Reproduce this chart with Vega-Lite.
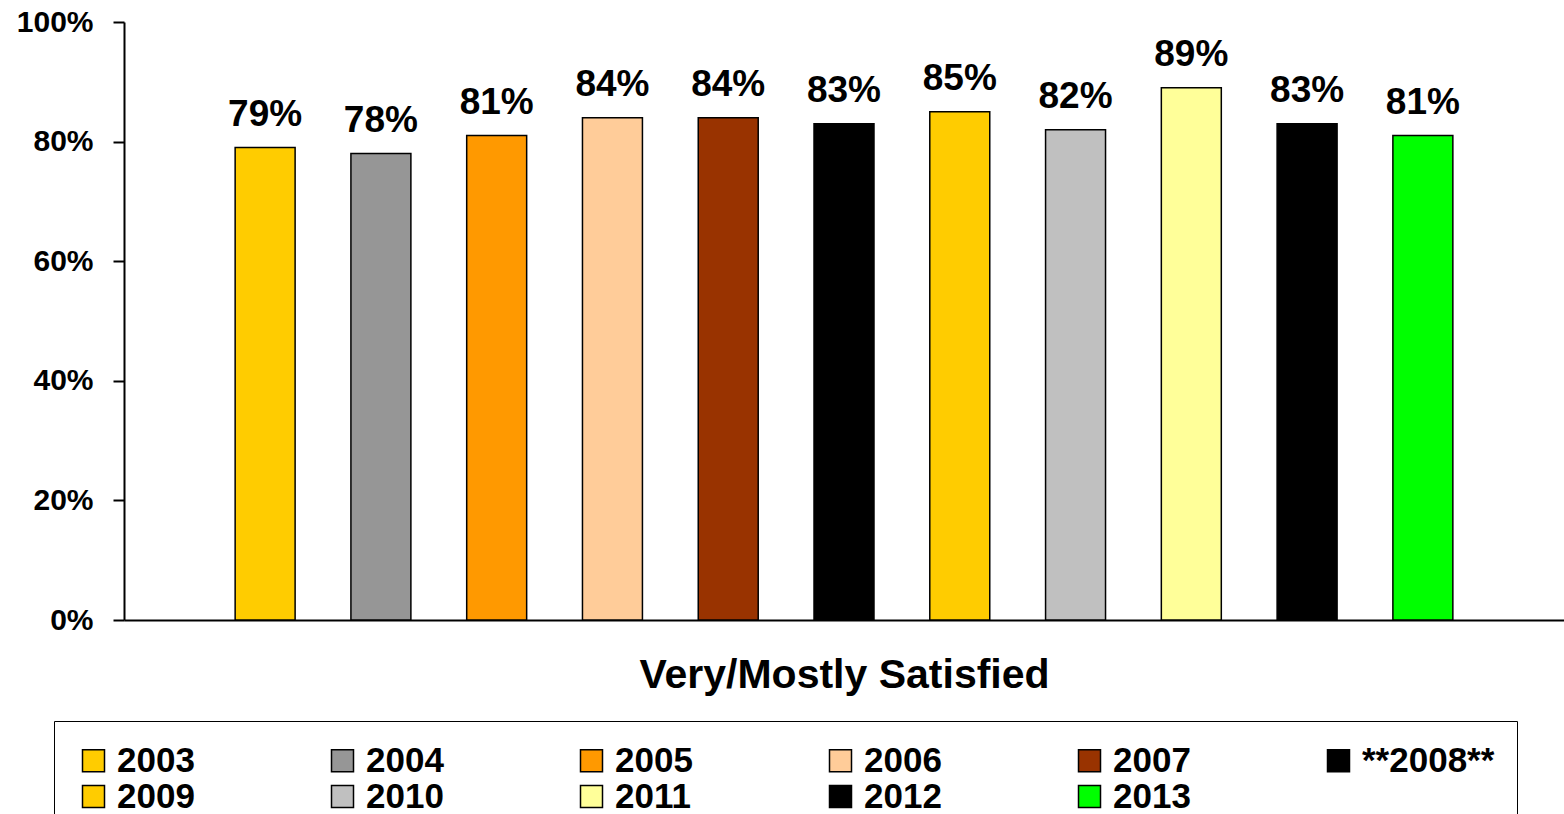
{
  "$schema": "https://vega.github.io/schema/vega-lite/v6.json",
  "width": 1440,
  "height": 598,
  "padding": {"left": 124, "top": 22, "right": 0, "bottom": 194},
  "autosize": {"type": "none"},
  "background": "white",
  "config": {
    "font": "Liberation Sans",
    "view": {"stroke": null},
    "axis": {"grid": false, "domainColor": "black", "domainWidth": 2, "tickColor": "black", "tickWidth": 2, "labelColor": "black", "titleColor": "black"}
  },
  "data": {
    "values": [
      {"year": "2003", "pct": 0.79},
      {"year": "2004", "pct": 0.78},
      {"year": "2005", "pct": 0.81},
      {"year": "2006", "pct": 0.84},
      {"year": "2007", "pct": 0.84},
      {"year": "**2008**", "pct": 0.83},
      {"year": "2009", "pct": 0.85},
      {"year": "2010", "pct": 0.82},
      {"year": "2011", "pct": 0.89},
      {"year": "2012", "pct": 0.83},
      {"year": "2013", "pct": 0.81}
    ]
  },
  "encoding": {
    "x": {
      "field": "year",
      "type": "nominal",
      "sort": null,
      "scale": {"paddingInner": 0.482, "paddingOuter": 0.96},
      "axis": {
        "title": "Very/Mostly Satisfied",
        "labels": false,
        "ticks": false,
        "titleFontSize": 41,
        "titleFontWeight": "bold",
        "titlePadding": 35
      }
    },
    "y": {
      "field": "pct",
      "type": "quantitative",
      "scale": {"domain": [0, 1], "nice": false},
      "axis": {
        "title": null,
        "format": ".0%",
        "values": [0, 0.2, 0.4, 0.6, 0.8, 1],
        "tickSize": 11,
        "labelPadding": 20,
        "labelFontSize": 30,
        "labelFontWeight": "bold"
      }
    }
  },
  "layer": [
    {
      "mark": {"type": "bar", "stroke": "black", "strokeWidth": 1.5},
      "encoding": {
        "color": {
          "field": "year",
          "type": "nominal",
          "sort": null,
          "scale": {
            "domain": ["2003", "2004", "2005", "2006", "2007", "**2008**", "2009", "2010", "2011", "2012", "2013"],
            "range": ["#FFCC00", "#969696", "#FF9900", "#FFCC99", "#993300", "#000000", "#FFCC00", "#C0C0C0", "#FFFF99", "#000000", "#00FF00"]
          },
          "legend": {
            "title": null,
            "orient": "none",
            "legendX": -70,
            "legendY": 699,
            "direction": "horizontal",
            "columns": 6,
            "columnPadding": 130,
            "rowPadding": 0,
            "padding": 22,
            "strokeColor": "black",
            "symbolType": "square",
            "symbolSize": 484,
            "symbolStrokeColor": "black",
            "symbolStrokeWidth": 1.5,
            "symbolOpacity": 1,
            "labelFontSize": 35,
            "labelFontWeight": "bold",
            "labelColor": "black",
            "labelOffset": 6,
            "labelLimit": 300
          }
        }
      }
    },
    {
      "mark": {"type": "text", "fontSize": 37, "fontWeight": "bold", "baseline": "alphabetic", "dy": -22, "color": "black"},
      "encoding": {
        "text": {"field": "pct", "type": "quantitative", "format": ".0%"}
      }
    }
  ]
}
